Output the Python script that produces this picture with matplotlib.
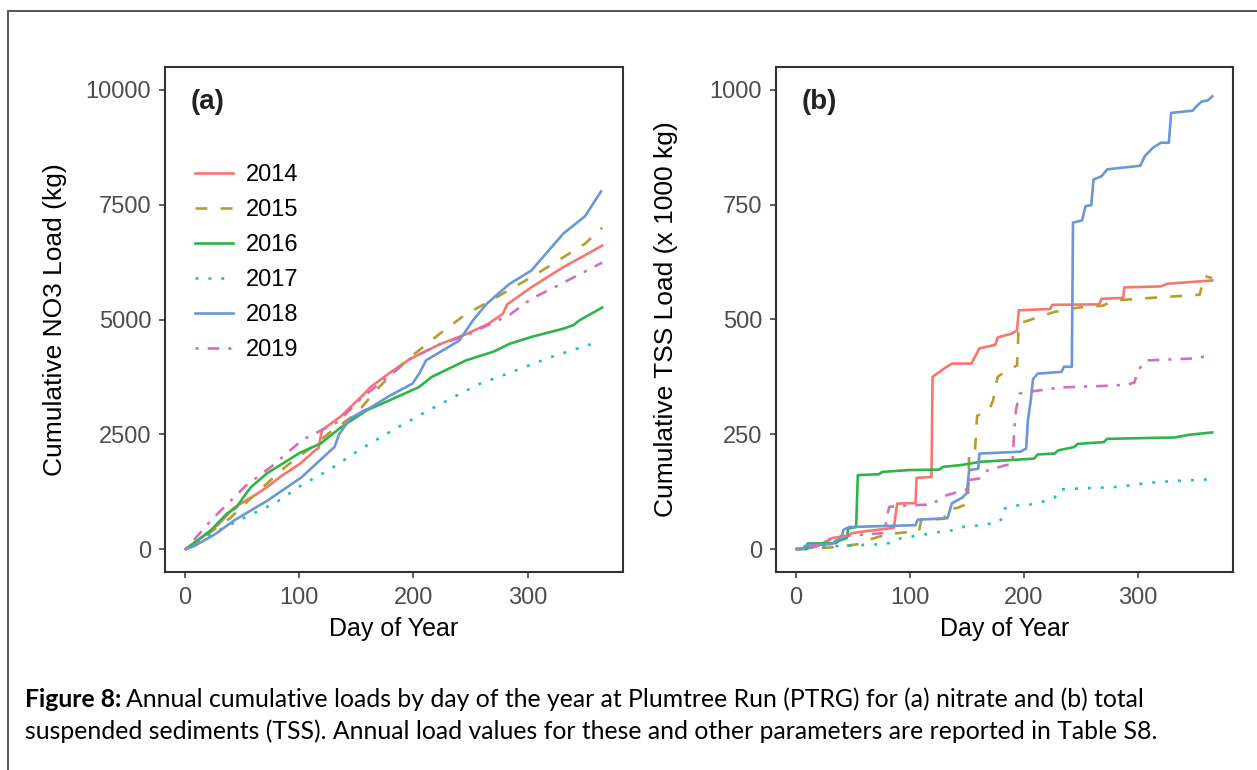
import matplotlib
matplotlib.use("Agg")
import matplotlib.pyplot as plt
from matplotlib.lines import Line2D

plt.rcParams['font.family'] = ['Liberation Sans', 'DejaVu Sans']

years = ['2014', '2015', '2016', '2017', '2018', '2019']
colors = ['#F6776E', '#B59E2E', '#2DB54A', '#1CC0C4', '#6A97D5', '#D66EB8']
styles = ['-', (0, (4.5, 5)), '-', (0, (1.1, 3.8)), '-', (0, (1.2, 3.4, 4.4, 3.4))]

# panel (a): cumulative NO3 load (kg)
no3_days = {
    '2014': [1, 15, 30, 43, 60, 72, 85, 101, 114, 117, 120, 136, 157, 162, 180, 197, 223, 246, 265, 278, 282, 303, 331, 350, 365],
    '2015': [1, 20, 40, 63, 90, 110, 130, 150, 170, 194, 223, 246, 267, 284, 303, 331, 350, 365],
    '2016': [1, 23, 37, 45, 52, 58, 72, 101, 119, 136, 159, 180, 205, 216, 246, 270, 284, 303, 331, 340, 345, 365],
    '2017': [1, 25, 52, 79, 102, 128, 152, 184, 208, 235, 258, 280, 320, 361],
    '2018': [1, 8, 27, 43, 72, 102, 131, 135, 145, 157, 161, 180, 199, 205, 211, 240, 252, 264, 274, 284, 303, 331, 350, 364],
    '2019': [1, 24, 53, 76, 103, 134, 154, 170, 197, 223, 246, 267, 284, 303, 331, 365],
}
no3_load = {
    '2014': [0, 250, 550, 900, 1150, 1350, 1600, 1860, 2150, 2200, 2590, 2880, 3380, 3520, 3850, 4140, 4460, 4680, 4900, 5120, 5330, 5700, 6140, 6400, 6610],
    '2015': [0, 320, 680, 1230, 1830, 2200, 2600, 2950, 3530, 4110, 4690, 5120, 5400, 5650, 5920, 6355, 6650, 7000],
    '2016': [0, 410, 775, 900, 1150, 1350, 1650, 2100, 2300, 2640, 3020, 3250, 3530, 3750, 4110, 4300, 4470, 4620, 4800, 4880, 4980, 5260],
    '2017': [0, 350, 680, 1000, 1390, 1750, 2150, 2620, 2950, 3310, 3600, 3800, 4180, 4510],
    '2018': [0, 60, 330, 620, 1050, 1560, 2225, 2500, 2850, 3020, 3060, 3350, 3600, 3820, 4110, 4540, 4980, 5340, 5560, 5775, 6065, 6870, 7250, 7790],
    '2019': [0, 650, 1370, 1800, 2380, 2770, 3275, 3600, 4140, 4460, 4650, 4900, 5100, 5450, 5800, 6240],
}

# panel (b): cumulative TSS load (x 1000 kg)
tss_days = {
    '2014': [1, 7, 18, 32, 44, 50, 62, 86, 89, 105, 106, 119, 120, 130, 137, 154, 161, 175, 177, 189, 194, 195.5, 223, 225, 266, 268, 287, 288, 320, 326, 365],
    '2015': [1, 35, 56, 65, 76, 79, 103, 108, 110, 130, 133, 141, 151, 152, 157, 159, 170, 173, 177, 185, 194, 195.5, 204, 226, 240, 251, 269, 278, 299, 354, 358, 365],
    '2016': [1, 10, 10.5, 35, 38, 45, 46, 53, 54.5, 73, 76, 99, 126, 129, 145, 162, 209, 212, 227, 230, 244, 247, 270, 273, 311, 332, 345, 365],
    '2017': [1, 24, 50, 80, 88, 95, 103, 111, 130, 139, 148, 156, 167, 175, 181, 183, 192, 202, 211, 219, 227, 231, 241, 260, 279, 288, 298, 307, 330, 365],
    '2018': [1, 7, 8, 32, 35, 40, 42, 47, 105, 107, 133, 137, 146, 150, 152, 160, 161, 197, 202, 203.5, 206, 208, 212, 233, 235, 242, 243, 251, 254, 259, 261, 268, 273, 302, 306, 313, 320, 327, 329, 348, 351, 356, 361, 365],
    '2019': [1, 24, 32, 41, 78, 80, 82, 108, 120, 122, 132, 142, 150, 151, 162, 168, 183, 190, 191.5, 193, 196, 200, 212, 232, 267, 291, 297, 299, 304, 309, 348, 365],
}
tss_load = {
    '2014': [0, 1, 5, 24, 28, 35, 39, 46, 99, 100, 155, 157, 375, 393, 404, 404, 437, 445, 461, 469, 476, 520, 523, 532, 533, 545, 547, 570, 572, 578, 585],
    '2015': [0, 4, 11, 21, 29, 32, 38, 38, 63, 66, 88, 89, 99, 208, 208, 290, 305, 324, 375, 389, 400, 491, 498, 516, 523, 527, 530, 541, 545, 554, 595, 590],
    '2016': [0, 0, 12, 13, 18, 24, 45, 48, 161, 163, 168, 172, 173, 179, 183, 190, 197, 206, 208, 215, 222, 229, 233, 240, 242, 243, 249, 254],
    '2017': [0, 5, 8, 11, 22, 24, 28, 31, 39, 41, 49, 50, 55, 55, 66, 88, 95, 95, 100, 105, 112, 130, 131, 133, 135, 137, 140, 144, 148, 152],
    '2018': [0, 1, 7, 11, 18, 24, 42, 48, 52, 64, 67, 100, 112, 122, 172, 175, 208, 212, 219, 280, 324, 370, 382, 386, 397, 397, 711, 716, 747, 749, 805, 812, 827, 835, 856, 874, 885, 885, 950, 955, 964, 975, 977, 986],
    '2019': [0, 11, 24, 28, 35, 70, 92, 96, 97, 102, 117, 124, 130, 150, 154, 171, 182, 185, 258, 302, 338, 341, 345, 352, 355, 358, 363, 382, 404, 411, 415, 422],
}

W, H = 1257, 770
fig = plt.figure(figsize=(W / 100, H / 100), dpi=100)

ax_a = fig.add_axes([165 / W, 1 - 572 / H, 458 / W, 505 / H])
ax_b = fig.add_axes([776 / W, 1 - 572 / H, 457 / W, 505 / H])


def style_axis(ax, ymax, yticks, ylabel, ypad):
    ax.set_xlim(1 - 18.2, 365 + 18.2)
    ax.set_ylim(-0.05 * ymax, 1.05 * ymax)
    ax.set_xticks([0, 100, 200, 300])
    ax.set_yticks(yticks)
    for s in ax.spines.values():
        s.set_linewidth(1.5)
        s.set_color('#333333')
    ax.tick_params(length=4.5, width=1.1, color='#333333', labelcolor='#4D4D4D', labelsize=17)
    ax.tick_params(axis='y', pad=5.5)
    ax.tick_params(axis='x', pad=6)
    ax.set_xlabel('Day of Year', fontsize=18, labelpad=6)
    ax.set_ylabel(ylabel, fontsize=19, labelpad=ypad)


for yr, c, ls in zip(years, colors, styles):
    ax_a.plot(no3_days[yr], no3_load[yr], color=c, linestyle=ls, lw=1.9, label=yr)
    ax_b.plot(tss_days[yr], tss_load[yr], color=c, linestyle=ls, lw=1.9, label=yr)

style_axis(ax_a, 10000, [0, 2500, 5000, 7500, 10000], 'Cumulative NO3 Load (kg)', 13)
style_axis(ax_b, 1000, [0, 250, 500, 750, 1000], 'Cumulative TSS Load (x 1000 kg)', 23)

ax_a.text(0.055, 0.93, '(a)', transform=ax_a.transAxes, fontsize=20, fontweight='bold',
          color='#222222', va='center', ha='left')
ax_b.text(0.055, 0.93, '(b)', transform=ax_b.transAxes, fontsize=20, fontweight='bold',
          color='#222222', va='center', ha='left')

ax_a.legend(loc='upper left', bbox_to_anchor=(0.045, 0.826), frameon=False, fontsize=17,
            handlelength=1.6, handletextpad=0.55, labelspacing=0.55, borderaxespad=0)

# outer frame (top and left edges visible)
fig.add_artist(Line2D([8 / W, 1], [1 - 11 / H, 1 - 11 / H], color='#555555', lw=1.4))
fig.add_artist(Line2D([8 / W, 8 / W], [0, 1 - 11 / H], color='#555555', lw=1.4))

# caption
cap_font = ['Lato', 'DejaVu Sans']
cap_size = 17.8
fig.canvas.draw()
r = fig.canvas.get_renderer()
t1 = fig.text(25 / W, 1 - 707 / H, 'Figure 8:', fontsize=cap_size, fontweight='bold', family=cap_font)
bb = t1.get_window_extent(renderer=r)
fig.text(bb.x1 / W + 5 / W, 1 - 707 / H,
         'Annual cumulative loads by day of the year at Plumtree Run (PTRG) for (a) nitrate and (b) total',
         fontsize=cap_size, family=cap_font)
fig.text(25 / W, 1 - 739 / H,
         'suspended sediments (TSS). Annual load values for these and other parameters are reported in Table S8.',
         fontsize=cap_size, family=cap_font)

fig.savefig('out.png', dpi=100)
